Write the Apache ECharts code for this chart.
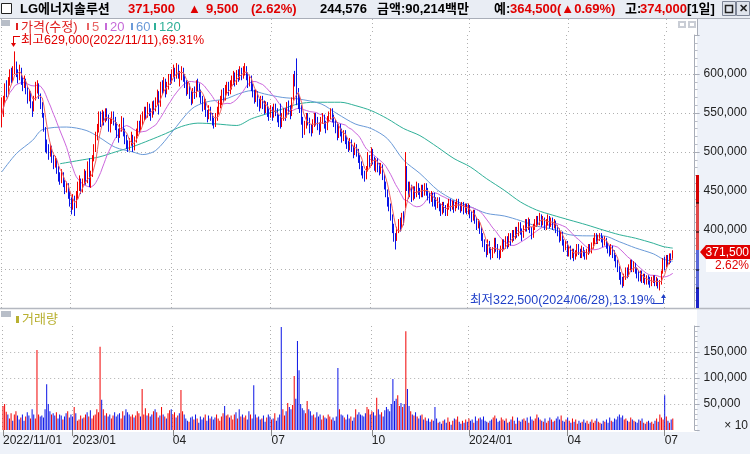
<!DOCTYPE html>
<html><head><meta charset="utf-8">
<script src="https://cdn.jsdelivr.net/npm/echarts@6/dist/echarts.min.js"></script>
<style>html,body{margin:0;padding:0;background:#fff;overflow:hidden}#c{width:750px;height:454px}</style>
</head><body><div id="c"></div><script>
// daily candles in thousand won: [open, close, low, high]
const candles = [
[535,548,532,570],[550,565,545,572],[568,580,562,588],[582,576,570,592],[578,590,574,596],[592,598,585,606],[600,592,588,608],[594,604,590,610],[606,612,600,629],[610,600,596,616],
[598,596,588,606],[597,605,592,612],[604,590,586,608],[592,585,578,596],[586,592,582,598],[590,578,574,594],[578,570,562,584],[570,575,565,580],[574,562,556,578],[560,556,545,565],
[558,568,552,572],[570,582,566,590],[584,585,575,592],[584,572,568,588],[570,560,555,575],[560,548,544,564],[546,530,526,550],[528,512,500,532],[512,505,498,516],[506,498,490,510],
[498,505,494,510],[504,492,486,508],[492,485,478,496],[486,490,480,495],[490,478,472,492],[478,470,462,482],[470,465,458,474],[464,472,460,478],[470,460,455,474],[460,452,446,464],
[452,458,448,462],[456,445,440,460],[446,433,430,450],[436,430,420,442],[432,440,426,446],[440,428,418,444],[430,445,428,450],[446,455,440,462],[456,462,450,470],[462,450,446,466],
[452,460,448,466],[462,470,458,478],[470,465,458,476],[466,480,460,488],[484,458,455,492],[460,470,454,476],[472,490,468,496],[492,505,488,510],[506,520,500,526],[522,530,515,536],
[532,545,525,552],[546,538,532,552],[540,548,534,554],[548,540,534,552],[542,552,538,556],[552,545,540,556],[544,530,526,548],[530,540,525,544],[542,548,536,552],[548,540,534,552],
[540,535,528,545],[534,525,518,538],[524,520,512,530],[522,530,518,536],[532,540,526,546],[540,525,520,544],[524,518,510,530],[518,510,504,522],[510,505,500,515],[506,512,502,518],
[514,520,508,526],[518,505,500,522],[506,515,502,520],[516,525,512,530],[526,535,520,540],[534,530,524,540],[532,540,528,548],[540,545,534,552],[546,552,540,558],[552,548,542,558],
[548,558,544,564],[558,552,546,562],[552,545,540,556],[546,560,544,565],[560,555,548,566],[556,565,552,570],[566,575,560,580],[574,560,548,578],[562,585,558,590],[584,580,574,592],
[580,590,576,596],[590,578,570,594],[578,585,574,590],[586,595,580,600],[595,592,586,600],[594,600,588,606],[600,606,596,612],[604,596,590,608],[598,610,594,614],[608,600,594,612],
[590,598,584,604],[598,605,592,610],[604,596,590,608],[596,588,582,600],[588,578,572,592],[578,585,574,590],[584,575,568,588],[574,566,560,578],[566,578,562,582],[578,574,568,584],
[574,588,570,592],[588,584,578,594],[584,576,570,588],[576,568,562,580],[568,558,552,572],[558,565,554,570],[564,550,545,568],[550,545,538,554],[546,555,542,560],[554,546,540,558],
[546,540,534,550],[540,535,530,544],[536,546,532,550],[546,552,540,558],[552,562,548,566],[562,566,556,572],[566,576,560,580],[576,570,564,582],[570,580,566,586],[580,586,574,590],
[586,578,572,590],[578,586,574,592],[586,592,580,598],[592,598,586,604],[598,590,584,602],[590,600,586,605],[600,596,590,606],[596,604,592,610],[604,598,592,608],[598,606,594,610],
[606,608,598,614],[606,598,592,610],[598,588,582,602],[588,594,584,598],[594,584,578,598],[584,575,570,588],[575,568,562,580],[568,575,564,580],[575,565,558,578],[565,560,552,568],
[560,568,556,572],[568,562,555,572],[562,555,548,566],[556,560,550,565],[560,552,545,564],[552,548,540,556],[548,555,544,560],[555,548,540,558],[548,558,544,562],[558,552,546,562],
[552,545,538,556],[545,538,532,548],[555,536,530,562],[536,545,532,550],[545,552,540,556],[552,546,540,556],[546,560,544,564],[560,555,548,566],[555,548,542,560],[550,566,546,570],
[568,594,566,600],[598,590,584,604],[600,565,560,620],[578,568,555,582],[568,555,550,572],[556,540,535,560],[540,528,518,545],[528,535,522,540],[535,545,530,550],[545,540,534,550],
[540,530,524,544],[530,526,520,536],[526,538,524,542],[538,545,532,550],[545,540,534,550],[540,534,528,545],[534,528,522,538],[528,540,526,545],[540,545,536,550],[545,536,530,548],
[536,530,524,540],[530,542,528,546],[542,548,538,552],[548,552,542,556],[552,545,538,556],[545,538,532,548],[538,530,524,542],[532,522,515,538],[522,532,518,536],[532,526,520,536],
[526,518,512,530],[518,524,514,528],[524,516,510,528],[516,510,504,520],[510,506,500,514],[506,514,502,518],[514,504,500,516],[504,498,492,508],[498,508,496,512],[508,500,494,510],
[500,492,486,504],[492,484,478,496],[484,478,470,488],[478,472,466,482],[472,468,462,476],[468,478,465,482],[478,492,475,500],[492,486,480,496],[486,500,482,506],[500,490,484,504],
[490,484,476,494],[480,488,474,492],[488,480,474,492],[480,476,470,486],[476,480,472,486],[480,470,464,484],[468,458,452,472],[458,448,442,462],[448,438,430,452],[438,430,424,442],
[430,418,412,434],[418,402,396,420],[400,392,385,408],[392,386,375,396],[392,400,386,404],[400,410,396,414],[410,405,398,416],[405,418,402,422],[418,412,406,424],[430,482,428,500],
[478,458,450,482],[458,448,440,462],[446,455,442,462],[455,442,436,458],[442,450,438,456],[450,445,440,456],[445,456,442,462],[456,450,445,460],[450,446,440,454],[446,454,442,458],
[454,448,442,458],[448,456,444,460],[456,450,444,460],[450,444,438,454],[444,440,434,448],[440,446,436,450],[446,436,430,448],[444,438,430,448],[438,432,426,442],[432,438,428,442],
[438,430,424,442],[430,424,418,434],[424,432,420,436],[432,428,422,436],[428,422,418,432],[422,430,418,434],[430,436,426,440],[436,430,424,440],[430,434,426,438],[434,428,422,438],
[428,432,424,436],[432,436,428,440],[436,430,426,440],[430,428,422,434],[428,432,424,436],[432,426,420,436],[426,430,422,434],[430,425,420,434],[425,428,420,434],[428,420,415,432],
[420,416,410,424],[416,422,412,426],[422,412,408,426],[412,406,400,416],[406,410,402,414],[410,400,395,412],[400,392,386,404],[392,384,378,396],[384,378,372,388],[378,372,365,382],
[372,382,368,388],[382,375,370,386],[375,368,362,378],[368,374,364,378],[374,386,370,390],[386,378,372,390],[378,370,364,382],[370,366,362,374],[366,376,364,380],[376,384,372,388],
[384,378,374,388],[378,388,376,392],[388,380,376,392],[380,392,378,396],[392,386,380,396],[386,396,384,400],[396,390,386,400],[390,400,388,404],[400,394,390,404],[394,405,392,410],
[405,398,394,410],[398,392,386,402],[392,402,390,406],[402,410,398,414],[410,404,398,414],[404,412,400,416],[412,400,396,414],[400,394,388,404],[394,405,390,408],[405,410,400,414],
[410,415,404,418],[415,410,406,418],[410,418,406,422],[418,410,404,420],[410,414,406,418],[414,405,400,416],[405,410,400,414],[410,415,406,420],[415,408,402,418],[408,412,404,416],
[412,405,400,416],[405,410,402,414],[410,402,396,412],[402,398,392,406],[398,390,384,402],[390,395,386,398],[395,385,380,398],[385,378,372,388],[378,382,374,386],[382,372,366,386],
[372,376,366,380],[376,368,362,380],[368,372,364,376],[372,365,360,376],[365,370,362,374],[370,378,366,382],[378,372,368,382],[372,368,364,376],[368,375,364,380],[375,370,366,378],
[370,366,362,374],[366,372,362,376],[372,378,368,382],[378,374,370,382],[374,380,370,384],[380,386,376,390],[386,392,382,396],[392,386,382,396],[386,390,382,394],[390,394,386,396],
[394,388,384,396],[388,384,378,392],[384,388,380,392],[388,380,376,390],[380,376,370,384],[376,372,366,380],[372,378,368,382],[378,370,364,380],[370,364,360,374],[364,358,352,368],
[358,350,346,362],[350,342,336,354],[342,336,330,346],[336,332,326,340],[332,340,328,344],[340,348,336,352],[348,342,338,352],[342,352,340,356],[352,358,348,362],[358,350,346,362],
[350,356,346,360],[356,348,344,358],[348,344,338,352],[344,338,334,348],[338,344,334,348],[344,336,332,348],[336,340,332,344],[340,333,330,344],[333,338,330,342],[338,335,330,342],
[335,330,326,340],[330,336,328,340],[336,338,332,342],[338,332,328,342],[332,336,328,340],[336,328,325,338],[328,330,322.5,336],[332,344,330,348],[346,358,344,364],[360,354,348,366],
[356,362,352,368],[364,358,354,368],[358,366,356,370],[366,362,358,370],[364.5,371.5,362,374]
];
// volume in thousands (axis units, x10 shares)
const volumes = [
46,50,35,30,22,32,18,30,36,28, 20,24,30,18,26,34,28,22,40,30, 22,154,30,26,28,24,40,88,50,36, 30,32,28,34,22,30,28,20,26,32,
36,24,30,26,44,32,18,20,28,22, 24,30,34,26,38,22,28,30,40,34, 160,58,40,28,32,26,30,22,28,34, 26,30,32,22,36,28,40,34,30,26,
30,24,28,36,32,26,79,30,42,28, 32,26,30,36,40,34,24,28,44,30, 26,22,32,38,40,30,34,24,28,32, 77,36,30,22,18,16,24,26,20,30,
22,14,26,20,24,30,18,28,22,26, 20,24,30,22,18,26,32,46,28,30, 24,28,20,30,34,22,40,26,30,24, 28,20,36,30,22,86,30,24,26,20,
22,28,16,24,30,26,20,22,32,18, 24,30,198,40,28,36,52,44,40,48, 104,60,171,115,50,42,38,32,56,40, 36,28,30,24,34,26,30,20,28,24,
22,30,26,20,24,18,26,119,40,30, 28,24,20,30,22,26,18,24,40,30, 34,30,28,26,32,44,40,30,36,34, 28,62,40,30,34,26,38,44,40,36,
50,98,56,60,67,46,52,44,50,190, 79,46,36,30,28,34,26,22,28,30, 20,24,18,22,16,20,18,44,22,14, 16,12,18,20,14,24,16,10,18,22,
20,26,16,12,18,14,20,16,22,18, 20,14,26,18,22,24,20,26,18,16, 14,18,20,24,28,22,16,18,24,20, 18,22,14,16,20,26,18,12,24,18,
16,20,22,18,24,14,26,20,18,22, 30,24,20,18,16,22,14,18,24,20, 16,18,22,26,20,28,18,16,20,24, 18,14,22,16,20,12,18,14,16,20,
14,18,12,16,20,14,18,22,16,14, 12,18,16,20,14,24,18,16,22,20, 26,30,24,28,20,22,18,16,24,20, 18,16,14,20,18,22,14,12,16,18,
14,16,12,18,22,16,30,24,20,67, 26,18,14,20,22
];
// moving averages: [day index, value in thousand won]
const ma60Points = [[0,474.5],[9,498],[19,515],[25,528.6],[40,532],[52,527.7],[60,519],[70,506],[81,500],[87,496.7],[95,502],[105,525.5],[117,555],[126,564],[138,568],[146,574.5],[154,578.7],[162,574.5],[173,570],[183,568],[197,561.7],[207,549],[218,536],[228,530],[238,517],[248,489.4],[258,472.5],[269,451],[279,438.4],[289,430],[299,421.4],[310,418],[320,412],[330,405],[340,401],[350,394],[361,392.5],[371,392.5],[381,385],[391,377],[402,369.5],[408,362.8],[414,360]];
const ma120Points = [[36,485],[50,490],[60,493.6],[70,500],[81,507],[91,515],[101,523.5],[111,532.8],[121,537],[132,536],[145,534],[154,542.6],[162,548],[173,555],[183,561.7],[193,563.8],[209,563.8],[218,559.6],[228,553],[238,542.6],[248,530],[258,521],[269,506],[279,491.6],[289,481],[299,466],[310,451],[320,436],[330,425.6],[340,419],[350,413],[361,406.5],[371,400],[381,394],[391,389.5],[402,383],[408,378.8],[414,376.8]];
const tickLabels = [[0,'2022/11/01'],[43,'2023/01'],[105,'04'],[166,'07'],[228,'10'],[288,'2024/01'],[349,'04'],[409,'07']];
const slotCount = 428;

const UP='#f00000', DOWN='#0a14e6';
const labelMap = {}; tickLabels.forEach(t=>labelMap[t[0]]=t[1]);
const cats = []; for (let i=0;i<slotCount;i++) cats.push(String(i));
const closes = candles.map(r=>r[1]);
function ma(n){return closes.map((c,i)=>{const s=Math.max(0,i-n+1);let t=0;for(let j=s;j<=i;j++)t+=closes[j];return t/(i-s+1);});}
function sparse(pts){const a=new Array(candles.length).fill(null);pts.forEach(p=>a[p[0]]=p[1]);return a;}
const fmt = v => Math.round(v*1000).toLocaleString('en-US');
const tickFn = (idx)=> labelMap[idx]!==undefined;
const dotted = {color:'#b0b0b0', type:[1,3], width:1};
const F = '"Liberation Sans","Noto Sans CJK KR",sans-serif';

const chart = echarts.init(document.getElementById('c'), null, {renderer:'canvas'});
const g = [];
// backgrounds
g.push({type:'rect', z:-10, shape:{x:697,y:0,width:53,height:454}, style:{fill:'#eef2f9'}});
g.push({type:'rect', z:-10, shape:{x:0,y:432,width:750,height:22}, style:{fill:'#eef2f9'}});
g.push({type:'rect', z:-10, shape:{x:0,y:0,width:750,height:18}, style:{fill:'#e9edf4'}});
g.push({type:'line', z:5, shape:{x1:0,y1:18.5,x2:750,y2:18.5}, style:{stroke:'#a9aeb8',lineWidth:1}});
g.push({type:'line', z:5, shape:{x1:0,y1:308.5,x2:750,y2:308.5}, style:{stroke:'#b4b8c0',lineWidth:1.5}});
// header
g.push({type:'rect', z:5, shape:{x:1.5,y:3.5,width:10,height:10}, style:{fill:'#fff',stroke:'#222',lineWidth:1}});
const header = [[20,'LG에너지솔루션','#000'],[128,'371,500','#e00000'],[188,'▲','#e00000'],[206,'9,500','#e00000'],[251,'(2.62%)','#e00000'],[320,'244,576','#000'],[377,'금액:90,214백만','#000'],[494,'예:','#000'],[510,'364,500(▲0.69%)','#e00000'],[687,'[1일]','#000'],[625,'고:','#000'],[640,'374,000','#e00000']];
header.forEach(h=>g.push({type:'text', z:6, style:{x:h[0],y:9,text:h[1],fill:h[2],font:'bold 13px '+F,verticalAlign:'middle',align:'left'}}));
g.push({type:'rect', z:6, shape:{x:722.5,y:1.5,width:13,height:14}, style:{fill:'#dfe4ec',stroke:'#7d8596'}});
g.push({type:'rect', z:7, shape:{x:725.5,y:5.5,width:7,height:7}, style:{fill:'none',stroke:'#222',lineWidth:1.5}});
g.push({type:'rect', z:6, shape:{x:736.5,y:1.5,width:13,height:14}, style:{fill:'#dfe4ec',stroke:'#7d8596'}});
g.push({type:'text', z:7, style:{x:743,y:9,text:'✕',fill:'#222',font:'bold 11px '+F,align:'center',verticalAlign:'middle'}});
// small pane buttons
[[678,21],[688,21]].forEach(p=>{g.push({type:'rect',z:6,shape:{x:p[0],y:p[1],width:8,height:7},style:{fill:'#c9cdd5'}});g.push({type:'rect',z:7,shape:{x:p[0]+2,y:p[1]+2,width:4,height:3},style:{fill:'#fff'}});});
// price legend
g.push({type:'rect', z:6, shape:{x:1,y:20,width:9,height:6}, style:{fill:'#b8bec8'}});
const leg = [[15,'가격(수정)','#e02020'],[86,'5','#e86464'],[104,'20','#c66ad8'],[130,'60','#6a9ad8'],[153,'120','#2fb098']];
leg.forEach(l=>{g.push({type:'rect',z:6,shape:{x:l[0]+1,y:23,width:2,height:7},style:{fill:l[2]}});g.push({type:'text',z:6,style:{x:l[0]+6,y:27,text:l[1],fill:l[2],font:'13px '+F,verticalAlign:'middle'}});});
// max label
g.push({type:'line', z:6, shape:{x1:13.5,y1:36,x2:13.5,y2:46}, style:{stroke:'#e00000',lineWidth:1}});
g.push({type:'line', z:6, shape:{x1:13.5,y1:36.5,x2:20,y2:36.5}, style:{stroke:'#e00000',lineWidth:1}});
g.push({type:'polygon', z:6, shape:{points:[[11,43],[16,43],[13.5,47]]}, style:{fill:'#e00000'}});
g.push({type:'text', z:6, style:{x:21,y:41,text:'최고629,000(2022/11/11),69.31%',fill:'#e00000',font:'12.5px '+F,verticalAlign:'middle'}});
// min label
g.push({type:'text', z:6, style:{x:470,y:301,text:'최저322,500(2024/06/28),13.19%',fill:'#2040c8',font:'12.5px '+F,verticalAlign:'middle'}});
g.push({type:'line', z:6, shape:{x1:652,y1:303.5,x2:663,y2:303.5}, style:{stroke:'#2040c8',lineWidth:1}});
g.push({type:'line', z:6, shape:{x1:663.5,y1:303.5,x2:663.5,y2:295}, style:{stroke:'#2040c8',lineWidth:1}});
g.push({type:'polygon', z:6, shape:{points:[[661,298],[666,298],[663.5,294]]}, style:{fill:'#2040c8'}});
// right color bar
[[175,203,'#d40000'],[203,250,'#e04848'],[250,288,'#5a68d8'],[288,308,'#1a22c8']].forEach(b=>g.push({type:'rect',z:6,shape:{x:696,y:b[0],width:3,height:b[1]-b[0]},style:{fill:b[2]}}));
[203,232,270,288].forEach(y=>g.push({type:'line',z:7,shape:{x1:696,y1:y,x2:699,y2:y},style:{stroke:'#000',lineWidth:1}}));
// price tag
g.push({type:'polygon', z:8, shape:{points:[[700,252],[706,245],[750,245],[750,259],[706,259]]}, style:{fill:'#e00000'}});
g.push({type:'text', z:9, style:{x:749,y:252.5,text:'371,500',fill:'#fff',font:'12px '+F,align:'right',verticalAlign:'middle'}});
g.push({type:'rect', z:8, shape:{x:706,y:259,width:44,height:13}, style:{fill:'#fff'}});
g.push({type:'text', z:9, style:{x:749,y:266,text:'2.62%',fill:'#e00000',font:'12px '+F,align:'right',verticalAlign:'middle'}});
// volume legend
g.push({type:'rect', z:6, shape:{x:1,y:311,width:10,height:6}, style:{fill:'#b8bec8'}});
g.push({type:'rect', z:6, shape:{x:16,y:316,width:3,height:7}, style:{fill:'#b8b030'}});
g.push({type:'text', z:6, style:{x:22,y:319.5,text:'거래량',fill:'#b8b030',font:'13px '+F,verticalAlign:'middle'}});
g.push({type:'text', z:6, style:{x:748,y:425.5,text:'× 10',fill:'#222',font:'12px '+F,align:'right',verticalAlign:'middle'}});

const option = {
  animation:false,
  backgroundColor:'#ffffff',
  grid:[{left:1,width:696,top:35,height:273},{left:1,width:696,top:326,height:104},{left:1,width:696,top:19,height:16}],
  xAxis:[
    {type:'category',gridIndex:0,data:cats,boundaryGap:true,axisLine:{show:false},axisTick:{show:false},axisLabel:{show:false},splitLine:{show:true,interval:tickFn,lineStyle:dotted}},
    {type:'category',gridIndex:1,data:cats,boundaryGap:true,axisLine:{show:false},
     axisTick:{show:true,interval:tickFn,alignWithLabel:true,length:6,lineStyle:{color:'#888'}},
     axisLabel:{show:true,interval:tickFn,formatter:(v,i)=>labelMap[i]||'',align:'left',margin:5,color:'#222',fontSize:12,fontFamily:F},
     splitLine:{show:true,interval:tickFn,lineStyle:dotted}},
    {type:'category',gridIndex:2,data:cats,boundaryGap:true,axisLine:{show:false},axisTick:{show:false},axisLabel:{show:false},splitLine:{show:true,interval:tickFn,lineStyle:dotted}}
  ],
  yAxis:[
    {type:'value',gridIndex:0,position:'right',min:300,max:650,interval:50,
     axisLine:{show:true,lineStyle:{color:'#a8adb8'}},axisTick:{show:true,length:5,lineStyle:{color:'#a8adb8'}},
     minorTick:{show:true,splitNumber:5,length:3,lineStyle:{color:'#b8bcc6'}},
     axisLabel:{formatter:v=>(v>=400&&v<=600)?fmt(v):'',margin:9,color:'#222',fontSize:12,fontFamily:F},
     splitLine:{show:true,showMinLine:false,showMaxLine:false,lineStyle:dotted}},
    {type:'value',gridIndex:1,position:'right',min:0,max:200,interval:50,
     axisLine:{show:true,lineStyle:{color:'#a8adb8'}},axisTick:{show:true,length:5,lineStyle:{color:'#a8adb8'}},
     minorTick:{show:true,splitNumber:5,length:3,lineStyle:{color:'#b8bcc6'}},
     axisLabel:{formatter:v=>(v>0&&v<200)?fmt(v):'',margin:9,color:'#222',fontSize:12,fontFamily:F},
     splitLine:{show:true,showMinLine:false,showMaxLine:false,lineStyle:dotted}},
    {type:'value',gridIndex:2,position:'right',min:0,max:1,show:true,axisLine:{show:true,lineStyle:{color:'#a8adb8'}},axisTick:{show:false},axisLabel:{show:false},splitLine:{show:false}}
  ],
  series:[
    {type:'line',name:'120',xAxisIndex:0,yAxisIndex:0,data:sparse(ma120Points),connectNulls:true,smooth:0.3,symbol:'none',lineStyle:{color:'#2fb098',width:1},z:3},
    {type:'line',name:'60',xAxisIndex:0,yAxisIndex:0,data:sparse(ma60Points),connectNulls:true,smooth:0.3,symbol:'none',lineStyle:{color:'#6a9ad8',width:1},z:3},
    {type:'line',name:'20',xAxisIndex:0,yAxisIndex:0,data:ma(20),symbol:'none',lineStyle:{color:'#cc66dd',width:1},z:3},
    {type:'candlestick',name:'가격',xAxisIndex:0,yAxisIndex:0,data:candles,barWidth:1,clip:false,
     itemStyle:{color:UP,color0:DOWN,borderColor:UP,borderColor0:DOWN,borderWidth:1},z:4},
    {type:'line',name:'5',xAxisIndex:0,yAxisIndex:0,data:ma(5),symbol:'none',lineStyle:{color:'#ee6060',width:1},z:5},
    {type:'bar',name:'거래량',xAxisIndex:1,yAxisIndex:1,barWidth:1,
     data:volumes.map((v,i)=>({value:v,itemStyle:{color:candles[i][1]>=candles[i][0]?UP:DOWN}}))}
  ],
  graphic:g
};
chart.setOption(option);
</script></body></html>
